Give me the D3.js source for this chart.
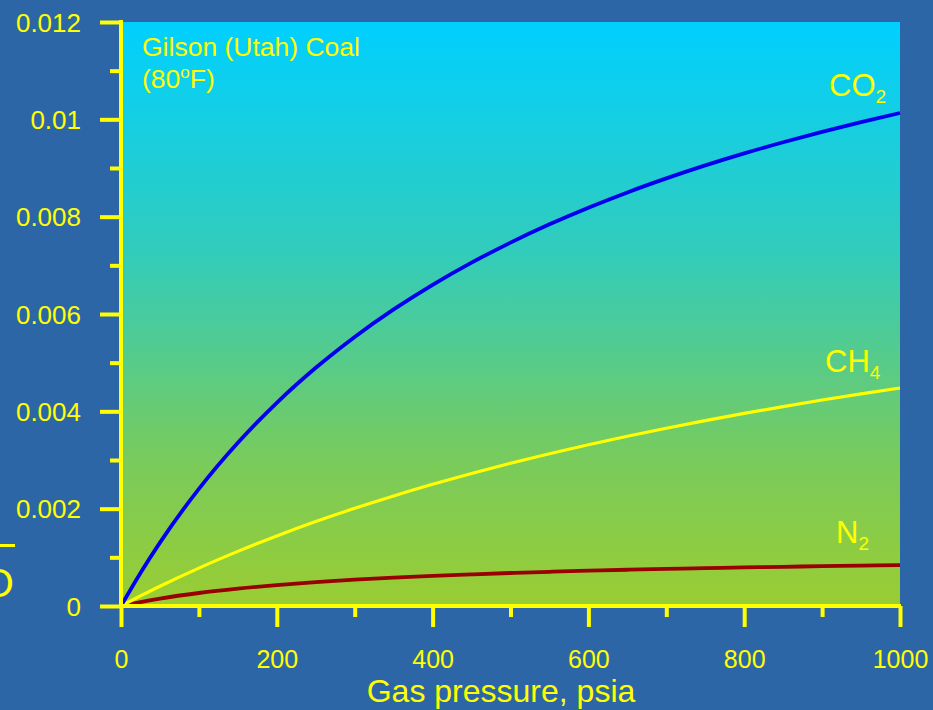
<!DOCTYPE html>
<html>
<head>
<meta charset="utf-8">
<script src="https://cdn.jsdelivr.net/npm/d3@7"></script>
<style>
html,body{margin:0;padding:0;background:#2D66A7;}
svg{display:block;font-family:"Liberation Sans",Arial,sans-serif;}
</style>
</head>
<body>
<svg id="chart" width="933" height="710"></svg>
<script>
// ---- data ----
const pressure = [0, 25, 50, 100, 150, 200, 250, 300, 350, 400, 450, 500, 550, 600, 650, 700, 750, 800, 850, 900, 950, 1000];
const co2 = [0, 0.00068, 0.001303, 0.002407, 0.003354, 0.004175, 0.004894, 0.005529, 0.006094, 0.0066, 0.007055, 0.007467, 0.007842, 0.008184, 0.008498, 0.008786, 0.009053, 0.0093, 0.009529, 0.009743, 0.009942, 0.01013];
const ch4 = [0, 0.000207, 0.000406, 0.000779, 0.001122, 0.00144, 0.001734, 0.002007, 0.002262, 0.0025, 0.002723, 0.002932, 0.003128, 0.003313, 0.003488, 0.003653, 0.003809, 0.003957, 0.004098, 0.004232, 0.004359, 0.00448];
const n2 = [0, 0.0000816, 0.000152, 0.000267, 0.000357, 0.00043, 0.00049, 0.00054, 0.000582, 0.000619, 0.00065, 0.000678, 0.000703, 0.000725, 0.000745, 0.000762, 0.000778, 0.000793, 0.000806, 0.000818, 0.00083, 0.00084];
const xMajorTicks = [0, 200, 400, 600, 800, 1000];
const xMinorTicks = [100, 300, 500, 700, 900];
const yMajorTicks = [0, 0.002, 0.004, 0.006, 0.008, 0.01, 0.012];
const yMinorTicks = [0.001, 0.003, 0.005, 0.007, 0.009, 0.011];
const yTickLabels = ["0", "0.002", "0.004", "0.006", "0.008", "0.01", "0.012"];
const seriesNames = ["CO", "CH", "N"];
const seriesSubs = ["2", "4", "2"];
const xTitle = "Gas pressure, psia";
const noteLine1 = "Gilson (Utah) Coal";

// ---- layout ----
const svg = d3.select("#chart");
const pLeft = 121, pRight = 900, pTop = 22, pBottom = 606;
const x = d3.scaleLinear().domain([0, 1000]).range([pLeft, pRight]);
const y = d3.scaleLinear().domain([0, 0.012]).range([pBottom, pTop]);
const yellow = "#FFFF00";

// gradient
const defs = svg.append("defs");
const grad = defs.append("linearGradient").attr("id", "bg").attr("x1", 0).attr("y1", 0).attr("x2", 0).attr("y2", 1);
[[0, "#00D0FF"], [0.4, "#33CCBA"], [0.75, "#79CB5C"], [1, "#9ACD32"]].forEach(s =>
  grad.append("stop").attr("offset", s[0]).attr("stop-color", s[1]));

svg.append("rect").attr("x", pLeft).attr("y", pTop).attr("width", pRight - pLeft).attr("height", pBottom - pTop).attr("fill", "url(#bg)");

// curves
const line = d3.line().x((d, i) => x(pressure[i])).y(d => y(d)).curve(d3.curveMonotoneX);
const seriesData = [co2, ch4, n2];
const seriesColors = ["#0000EE", "#FFFF00", "#990000"];
const seriesWidths = [3.8, 3.2, 3.8];
[2, 1, 0].forEach(i => {
  svg.append("path").attr("d", line(seriesData[i])).attr("fill", "none")
    .attr("stroke", seriesColors[i]).attr("stroke-width", seriesWidths[i]);
});

// axes
const yAxisMajor = d3.axisLeft(y).tickValues(yMajorTicks).tickSize(21).tickSizeOuter(0)
  .tickFormat((d, i) => yTickLabels[i]).tickPadding(19);
const gy = svg.append("g").attr("transform", `translate(${pLeft},0)`).call(yAxisMajor);
gy.select(".domain").attr("stroke", yellow).attr("stroke-width", 4).attr("d", `M0,${pTop - 2}V${pBottom + 2}`);
gy.selectAll(".tick line").attr("stroke", yellow).attr("stroke-width", 4);
gy.selectAll(".tick text").attr("fill", yellow).attr("font-size", 26).attr("font-family", "Liberation Sans, Arial, sans-serif").attr("dy", "0.35em");
const gym = svg.append("g").attr("transform", `translate(${pLeft},0)`).call(d3.axisLeft(y).tickValues(yMinorTicks).tickSize(11).tickFormat(""));
gym.select(".domain").remove();
gym.selectAll(".tick line").attr("stroke", yellow).attr("stroke-width", 4);

const xAxisMajor = d3.axisBottom(x).tickValues(xMajorTicks).tickSize(21).tickSizeOuter(0).tickFormat(d3.format("d")).tickPadding(23);
const gx = svg.append("g").attr("transform", `translate(0,${pBottom})`).call(xAxisMajor);
gx.select(".domain").attr("stroke", yellow).attr("stroke-width", 4).attr("d", `M${pLeft - 2},0H${pRight + 1}`);
gx.selectAll(".tick line").attr("stroke", yellow).attr("stroke-width", 4);
gx.selectAll(".tick text").attr("fill", yellow).attr("font-size", 25).attr("font-family", "Liberation Sans, Arial, sans-serif");
const gxm = svg.append("g").attr("transform", `translate(0,${pBottom})`).call(d3.axisBottom(x).tickValues(xMinorTicks).tickSize(11).tickFormat(""));
gxm.select(".domain").remove();
gxm.selectAll(".tick line").attr("stroke", yellow).attr("stroke-width", 4);

// x title
svg.append("text").attr("x", (366 + 636) / 2).attr("y", 702).attr("text-anchor", "middle")
  .attr("fill", yellow).attr("font-size", 32).text(xTitle);

// note
svg.append("text").attr("x", 142).attr("y", 56).attr("fill", yellow).attr("font-size", 26.5).text(noteLine1);
const note2 = svg.append("text").attr("x", 142).attr("y", 88).attr("fill", yellow).attr("font-size", 26.5);
note2.append("tspan").text("(80");
note2.append("tspan").attr("font-size", 17).attr("dy", -10).text("o");
note2.append("tspan").attr("dy", 10).text("F)");

// series labels
const labelPos = [[829, 96], [825, 372], [836, 543]];
labelPos.forEach((p, i) => {
  const t = svg.append("text").attr("x", p[0]).attr("y", p[1]).attr("fill", yellow).attr("font-size", 31);
  t.append("tspan").text(seriesNames[i]);
  t.append("tspan").attr("font-size", 19).attr("dy", 7).text(seriesSubs[i]);
});

// partially visible y-axis title at left edge (cut off in the reference too)
svg.append("line").attr("x1", 0).attr("x2", 15).attr("y1", 545.5).attr("y2", 545.5).attr("stroke", yellow).attr("stroke-width", 3);
svg.append("text").attr("x", 14).attr("y", 597).attr("text-anchor", "end").attr("fill", yellow).attr("font-size", 41).text("O");
</script>
</body>
</html>
